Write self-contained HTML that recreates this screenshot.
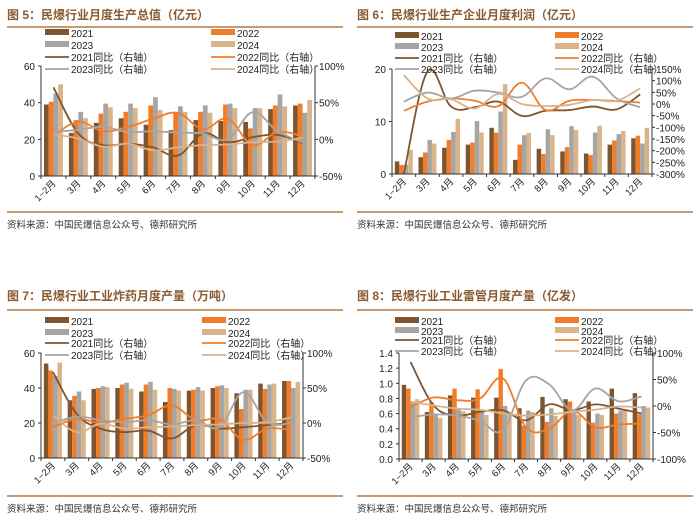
<!DOCTYPE html>
<html><head><meta charset="utf-8"><style>
body{margin:0;background:#fff;}
svg text{font-family:"Liberation Sans","Noto Sans CJK SC",sans-serif;}
</style></head><body>
<svg id="c" width="700" height="522" viewBox="0 0 700 522" xmlns="http://www.w3.org/2000/svg"></svg>
<script>
const cats=["1−2月","3月","4月","5月","6月","7月","8月","9月","10月","11月","12月"];
const years=["2021","2022","2023","2024"];
// Figure 5
const p5Bar21=[39,23.5,29,31.5,28,25,30.5,30,29.5,36.5,38.5];
const p5Bar22=[40.5,30.5,34,35,38.5,34.5,35,39,26,38.5,39.5];
const p5Bar23=[45,35,39.5,39.5,43,38,38.5,39.5,37,44.5,34.5];
const p5Bar24=[50,31.5,37.5,37,36,35,34.5,37,37,38,41.5];
const p5Yoy21=[71,8,-8,-6,-11,-22,8,-4,3,6,-5];
const p5Yoy22=[5,24,11,17,28,36,14,28,-8,10,4];
const p5Yoy23=[10,13,17,10,11,9,8,0,37,11,-4];
const p5Yoy24=[7,1,-10,-6,-15,-11,-8,-7,-4,-3,2];
const p5LeftTicks=["0","20","40","60"];
const p5RightTicks=["-50%","0%","50%","100%"];
// Figure 6
const p6Bar21=[2.4,3.2,5,5.6,8.8,2.7,4.8,4.3,3.9,5.6,6.8];
const p6Bar22=[1.7,4.1,6.5,6,7.9,5.6,3.8,5.1,3.6,6.4,7.3];
const p6Bar23=[1.8,6.5,8,10.1,11.9,7.4,8.5,9.1,7.9,7.6,5.8];
const p6Bar24=[4.6,5.8,10.5,7.9,17.1,7.8,7.4,8.4,9.2,8.2,8.8];
const p6Yoy21=[-300,139,-11,-14,10,-51,-29,-26,-11,-23,41];
const p6Yoy22=[-29,10,24,14,-9,91,-26,14,17,13,6];
const p6Yoy23=[10,49,24,57,49,31,110,63,117,24,-14];
const p6Yoy24=[124,24,20,-19,43,0,-9,-4,17,14,67];
const p6LeftTicks=["0","10","20"];
const p6RightTicks=["-300%","-250%","-200%","-150%","-100%","-50%","0%","50%","100%","150%"];
// Figure 7
const p7Bar21=[54,33,39.5,40,38,32,38.5,40,37,42.5,44];
const p7Bar22=[50,35.5,40,42,42,40,39,41,28,39.5,44];
const p7Bar23=[47,38,41,43,43.5,39.5,40.5,41.5,39,42,40];
const p7Bar24=[54.5,33,40.5,39.5,39,38.5,38.5,40,39,42.5,43.5];
const p7Yoy21=[73,13,-8,-13,-11,-22,-3,-8,-6,-3,0];
const p7Yoy22=[-6,6,0,6,11,25,4,5,-24,-8,-10];
const p7Yoy23=[-1,9,4,1,4,-2,4,-6,44,1,0];
const p7Yoy24=[11,-13,-1,-8,-6,-5,-3,-2,0,1,8];
const p7LeftTicks=["0","20","40","60"];
const p7RightTicks=["-50%","0%","50%","100%"];
// Figure 8
const p8Bar21=[0.98,0.62,0.84,0.81,0.81,0.67,0.82,0.79,0.76,0.93,0.87];
const p8Bar22=[0.93,0.75,0.93,0.92,1.19,0.44,0.49,0.76,0.48,0.60,0.59];
const p8Bar23=[0.75,0.60,0.66,0.62,0.70,0.64,0.67,0.63,0.60,0.64,0.70];
const p8Bar24=[0.79,0.54,0.63,0.58,0.61,0.62,0.57,0.58,0.58,0.66,0.68];
const p8Yoy21=[83,1,-18,-11,-8,-27,3,-8,3,-5,-14];
const p8Yoy22=[-2,16,11,14,52,-40,-43,-9,-40,-35,-33];
const p8Yoy23=[-21,-16,-18,-28,-46,48,41,-8,33,9,18];
const p8Yoy24=[8,1,-5,-7,-14,-18,-16,-11,-7,-1,-3];
const p8LeftTicks=["0.0","0.2","0.4","0.6","0.8","1.0","1.2","1.4"];
const p8RightTicks=["-100%","-50%","0%","50%","100%"];

const barColors=["#7f5530","#f07d2c","#a5a5a5","#d9b38a"];
const lineColors=["#7f5530","#f07d2c","#a5a5a5","#d9b38a"];
const NS="http://www.w3.org/2000/svg";
const svg=document.getElementById('c');
function el(tag,attrs,parent,txt){const e=document.createElementNS(NS,tag);for(const k in attrs)e.setAttribute(k,attrs[k]);if(txt!==undefined)e.textContent=txt;(parent||svg).appendChild(e);return e;}
function smooth(pts){let d="M"+pts[0][0]+","+pts[0][1];for(let i=0;i<pts.length-1;i++){const p0=pts[Math.max(0,i-1)],p1=pts[i],p2=pts[i+1],p3=pts[Math.min(pts.length-1,i+2)];const t=0.18;const c1=[p1[0]+(p2[0]-p0[0])*t,p1[1]+(p2[1]-p0[1])*t],c2=[p2[0]-(p3[0]-p1[0])*t,p2[1]-(p3[1]-p1[1])*t];d+=" C"+c1+" "+c2+" "+p2;}return d;}

const panels=[
 {id:"fig5",title:"图 5：民爆行业月度生产总值（亿元）",ox:0,oy:0,titleY:19,ruleY:27,L:41,R:315,top:66,bot:176,lmax:60,rmin:-50,rmax:100,legY:[33,45,58,70],legRX:211,bars:[p5Bar21,p5Bar22,p5Bar23,p5Bar24],yoy:[p5Yoy21,p5Yoy22,p5Yoy23,p5Yoy24],lt:p5LeftTicks,rt:p5RightTicks,botRule:212,srcY:228},
 {id:"fig6",title:"图 6：民爆行业生产企业月度利润（亿元）",ox:350,oy:0,titleY:19,ruleY:27,L:42,R:302,top:69,bot:174,lmax:20,rmin:-300,rmax:150,legY:[36,47,59,70],legRX:205,bars:[p6Bar21,p6Bar22,p6Bar23,p6Bar24],yoy:[p6Yoy21,p6Yoy22,p6Yoy23,p6Yoy24],lt:p6LeftTicks,rt:p6RightTicks,botRule:212,srcY:228},
 {id:"fig7",title:"图 7：民爆行业工业炸药月度产量（万吨）",ox:0,oy:280,titleY:20,ruleY:30,L:41,R:303,top:73,bot:178,lmax:60,rmin:-50,rmax:100,legY:[41,53,64,76],legRX:202,bars:[p7Bar21,p7Bar22,p7Bar23,p7Bar24],yoy:[p7Yoy21,p7Yoy22,p7Yoy23,p7Yoy24],lt:p7LeftTicks,rt:p7RightTicks,botRule:216,srcY:232},
 {id:"fig8",title:"图 8：民爆行业工业雷管月度产量（亿发）",ox:350,oy:280,titleY:20,ruleY:30,L:49,R:303,top:73,bot:179,lmax:1.4,rmin:-100,rmax:100,legY:[41,51,61,72],legRX:205,bars:[p8Bar21,p8Bar22,p8Bar23,p8Bar24],yoy:[p8Yoy21,p8Yoy22,p8Yoy23,p8Yoy24],lt:p8LeftTicks,rt:p8RightTicks,botRule:216,srcY:232}
];

panels.forEach(P=>{
 const g=el('g',{transform:`translate(${P.ox},${P.oy})`});
 
 
 const t=el('text',{x:7,y:P.titleY,'font-size':12,'font-weight':'bold',fill:'#8a5a30'},g,P.title);
 
 
 el('line',{x1:7,x2:343,y1:P.ruleY,y2:P.ruleY,stroke:'#b07a45','stroke-width':1.5},g);
 el('line',{x1:7,x2:343,y1:P.botRule,y2:P.botRule,stroke:'#b07a45','stroke-width':1.5},g);
 const s=el('text',{x:7,y:P.srcY,'font-size':9.5,fill:'#333'},g,"资料来源：中国民爆信息公众号、德邦研究所");
 
 
 const n=cats.length, gw=(P.R-P.L)/n;
 const yL=v=>P.bot-(v/P.lmax)*(P.bot-P.top);
 const yR=v=>P.bot-((v-P.rmin)/(P.rmax-P.rmin))*(P.bot-P.top);
 const xC=i=>P.L+gw*(i+0.5);
 // bars
 const bw=gw*0.19;
 P.bars.forEach((arr,k)=>{arr.forEach((v,i)=>{
  const x=P.L+gw*i+gw*0.12+k*bw;
  const r=el('rect',{x:x,y:yL(v),width:bw,height:P.bot-yL(v),fill:barColors[k]},g);
  
  
 });});
 // lines
 P.yoy.forEach((arr,k)=>{
  const pts=arr.map((v,i)=>[xC(i),yR(v)]);
  const p=el('path',{d:smooth(pts),fill:'none',stroke:lineColors[k],'stroke-width':1.8},g);
  
  
 });
 // axes
 el('line',{x1:P.L,x2:P.L,y1:P.top,y2:P.bot,stroke:'#333','stroke-width':1},g);
 el('line',{x1:P.R,x2:P.R,y1:P.top,y2:P.bot,stroke:'#333','stroke-width':1},g);
 el('line',{x1:P.L,x2:P.R,y1:P.bot,y2:P.bot,stroke:'#333','stroke-width':1},g);
 P.lt.forEach((lab,i)=>{const y=P.bot-i*(P.bot-P.top)/(P.lt.length-1);
  el('line',{x1:P.L-3,x2:P.L,y1:y,y2:y,stroke:'#333'},g);
  const tx=el('text',{x:P.L-6,y:y+4,'font-size':10,'text-anchor':'end',fill:'#222'},g,lab);
  
  });
 P.rt.forEach((lab,i)=>{const y=P.bot-i*(P.bot-P.top)/(P.rt.length-1);
  el('line',{x1:P.R,x2:P.R+3,y1:y,y2:y,stroke:'#333'},g);
  const tx=el('text',{x:P.R+4,y:y+4,'font-size':10,fill:'#222'},g,lab);
  
  });
 for(let i=0;i<=n;i++){const x=P.L+gw*i;el('line',{x1:x,x2:x,y1:P.bot,y2:P.bot+3,stroke:'#333'},g);}
 cats.forEach((c,i)=>{const x=xC(i)+3,y=P.bot+8;
  const tx=el('text',{x:x,y:y,'font-size':9.5,'text-anchor':'end',fill:'#222',transform:`rotate(-45 ${x} ${y})`},g,c);
  
  });
 // legend
 const lx=[45,P.legRX];
 years.forEach((yr,k)=>{const col=k%2,row=Math.floor(k/2);const y=P.legY[row];
  el('rect',{x:lx[col],y:y-4,width:24,height:6,fill:barColors[k]},g);
  const tx=el('text',{x:lx[col]+26,y:y+4,'font-size':10,fill:'#222'},g,yr);
  
  });
 years.forEach((yr,k)=>{const col=k%2,row=2+Math.floor(k/2);const y=P.legY[row];
  el('line',{x1:lx[col],x2:lx[col]+24,y1:y-1,y2:y-1,stroke:lineColors[k],'stroke-width':1.8},g);
  const tx=el('text',{x:lx[col]+26,y:y+3,'font-size':10,fill:'#222'},g,yr+"同比（右轴）");
  
  });
});
</script>
</body></html>
